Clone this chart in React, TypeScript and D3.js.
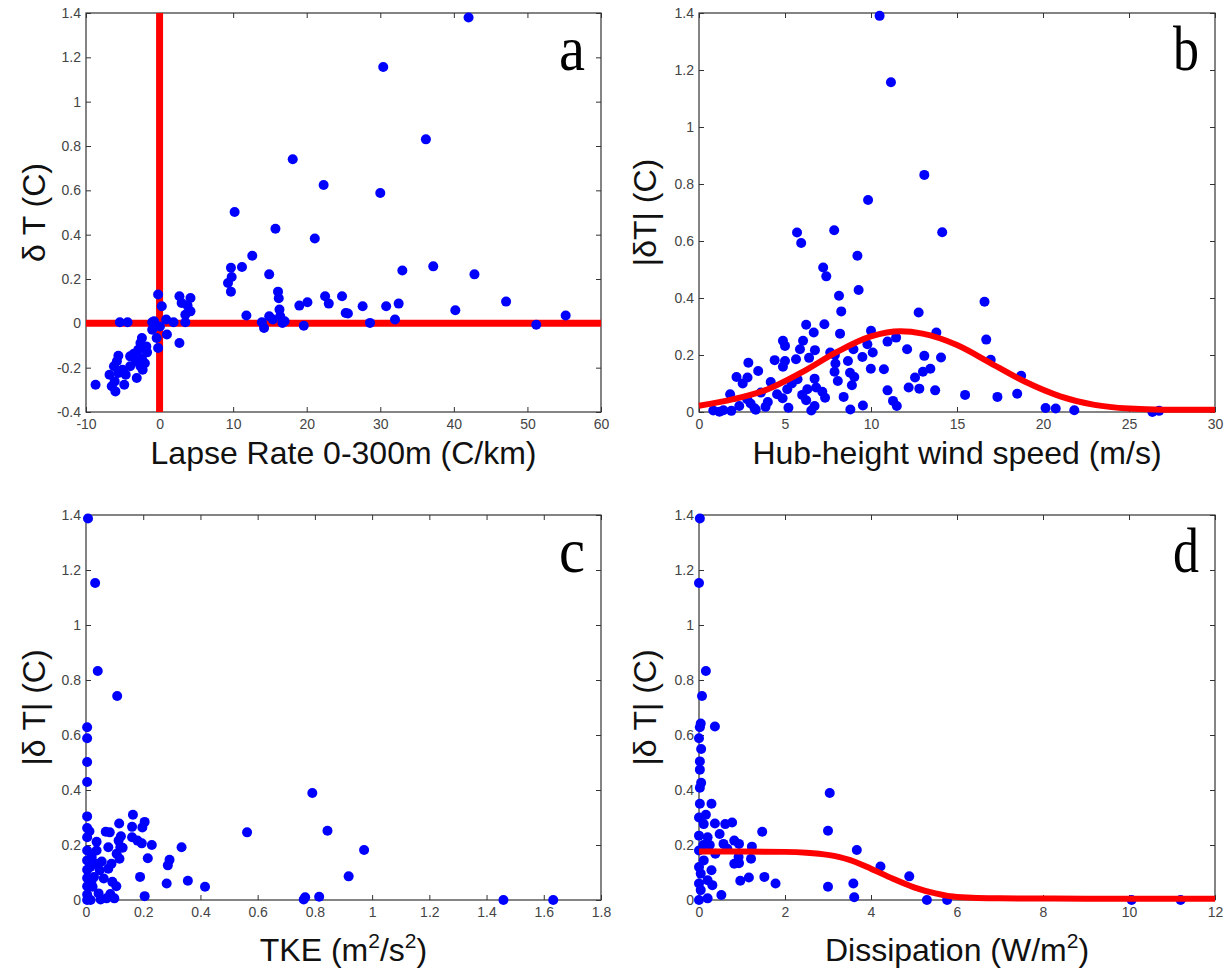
import React, { useEffect, useRef } from "react";
import * as d3 from "d3";

// panel a : lapse rate (C/km) vs dT (C)
const lapsePoints: [number, number][] = [
  [42.0, 1.38], [30.4, 1.156], [36.2, 0.83], [18.1, 0.74], [22.3, 0.624], [30.0, 0.588],
  [10.2, 0.502], [15.75, 0.427], [21.1, 0.383], [12.6, 0.305], [37.2, 0.257], [33.0, 0.238],
  [42.8, 0.221], [9.7, 0.251], [11.2, 0.254], [14.9, 0.221], [9.8, 0.209], [9.3, 0.182],
  [9.7, 0.143], [16.1, 0.143], [16.2, 0.113], [22.5, 0.122], [23.0, 0.089], [24.8, 0.122],
  [47.1, 0.098], [20.1, 0.095], [19.0, 0.08], [27.6, 0.077], [30.8, 0.077], [32.5, 0.089],
  [25.3, 0.047], [25.6, 0.044], [40.2, 0.059], [55.2, 0.035], [11.8, 0.035], [16.3, 0.062],
  [16.4, 0.032], [14.9, 0.032], [32.0, 0.017], [17.0, 0.009], [16.7, 0.002], [13.9, 0.005],
  [14.2, -0.021], [19.6, -0.011], [28.6, 0.002], [51.2, -0.006], [15.4, 0.017],
  [-0.2, 0.13], [0.3, 0.077], [2.7, 0.122], [4.2, 0.114], [3.0, 0.092], [3.8, 0.08],
  [4.2, 0.054], [3.5, 0.039], [3.5, 0.005], [1.9, 0.005], [0.9, 0.017], [-0.75, 0.009],
  [0.05, -0.014], [1.0, -0.05], [2.7, -0.089], [-0.2, -0.111], [-0.4, -0.066], [-5.4, 0.005],
  [-4.35, 0.005], [-1.0, 0.005], [-1.0, -0.029], [-2.4, -0.066], [-2.6, -0.089], [-1.8, -0.104],
  [-2.9, -0.119], [-1.7, -0.131], [-3.5, -0.137], [-4.0, -0.149], [-3.2, -0.171], [-2.4, -0.157],
  [-2.0, -0.18], [-2.6, -0.194], [-2.3, -0.209], [-3.1, -0.247], [-4.0, -0.194], [-5.6, -0.146],
  [-5.8, -0.171], [-6.2, -0.194], [-6.8, -0.232], [-5.6, -0.224], [-5.05, -0.209], [-4.6, -0.232],
  [-6.1, -0.262], [-4.8, -0.277], [-6.0, -0.307], [-8.7, -0.277], [-6.5, -0.284],
];

// panel b : hub-height wind speed (m/s) vs |dT|
const windPoints: [number, number][] = [
  [10.5, 1.39], [11.16, 1.157], [13.1, 0.832], [9.83, 0.744], [14.14, 0.631], [5.7, 0.63],
  [5.94, 0.593], [7.86, 0.638], [9.21, 0.548], [7.22, 0.507], [7.4, 0.476], [8.14, 0.408],
  [9.28, 0.428], [8.27, 0.353], [12.77, 0.349], [16.6, 0.387], [7.29, 0.308], [6.23, 0.306],
  [6.67, 0.279], [8.2, 0.275], [10.0, 0.285], [13.8, 0.279], [16.7, 0.254], [11.46, 0.261],
  [10.96, 0.247], [4.88, 0.25], [5.0, 0.232], [6.05, 0.25], [5.87, 0.22], [12.1, 0.22],
  [9.79, 0.238], [10.1, 0.209], [8.98, 0.22], [6.74, 0.217], [7.63, 0.209], [13.1, 0.197],
  [14.07, 0.191], [16.96, 0.183], [2.87, 0.173], [4.4, 0.182], [5.0, 0.179], [5.64, 0.185],
  [8.66, 0.179], [7.93, 0.17], [9.5, 0.193], [4.88, 0.159], [9.99, 0.152], [10.75, 0.15],
  [7.88, 0.141], [8.78, 0.138], [13.02, 0.141], [13.45, 0.152], [3.44, 0.144], [2.18, 0.123],
  [2.82, 0.121], [6.72, 0.117], [12.56, 0.121], [18.73, 0.127], [9.03, 0.123], [8.07, 0.109],
  [8.89, 0.094], [5.73, 0.115], [4.17, 0.105], [2.54, 0.1], [12.19, 0.086], [12.81, 0.082],
  [6.81, 0.086], [6.3, 0.08], [5.13, 0.08], [13.73, 0.076], [10.96, 0.076], [7.17, 0.071],
  [3.6, 0.068], [4.54, 0.062], [15.47, 0.06], [17.35, 0.053], [18.5, 0.064], [8.41, 0.053],
  [7.33, 0.05], [4.86, 0.048], [2.8, 0.045], [1.81, 0.062], [6.23, 0.041], [11.28, 0.039],
  [6.72, 0.021], [9.53, 0.023], [11.5, 0.021], [5.2, 0.015], [3.23, 0.013], [3.87, 0.018],
  [8.8, 0.009], [20.15, 0.014], [20.74, 0.012], [21.82, 0.006], [6.53, 0.005], [1.42, 0.006],
  [0.83, 0.005], [1.19, 0.001], [1.88, 0.004], [2.34, 0.021], [26.36, 0.0], [26.75, 0.004],
  [3.0, 0.03], [4.0, 0.035], [3.3, 0.008], [7.9, 0.2], [6.4, 0.19], [5.4, 0.1], [6.0, 0.06],
];
const windFit: [number, number][] = [
  [0, 0.022], [2, 0.045], [4, 0.08], [6, 0.14], [8, 0.21], [10, 0.265], [11.7, 0.283],
  [13, 0.275], [15, 0.235], [17, 0.17], [19, 0.105], [21, 0.055], [23, 0.025], [25, 0.012],
  [27, 0.008], [30, 0.008],
];

// panel c : TKE (m2/s2) vs |dT|
const tkePoints: [number, number][] = [
  [0.007, 1.387], [0.032, 1.153], [0.041, 0.833], [0.109, 0.742], [0.004, 0.628], [0.004, 0.588],
  [0.004, 0.502], [0.004, 0.429], [0.004, 0.304], [0.004, 0.262], [0.004, 0.228], [0.004, 0.18],
  [0.004, 0.144], [0.004, 0.11], [0.004, 0.08], [0.004, 0.05], [0.004, 0.02], [0.004, 0.0],
  [0.791, 0.389], [0.563, 0.246], [0.844, 0.252], [0.972, 0.182], [0.918, 0.086], [0.334, 0.192],
  [0.356, 0.07], [0.416, 0.048], [0.282, 0.06], [0.286, 0.126], [0.292, 0.146], [0.216, 0.152],
  [0.23, 0.2], [0.189, 0.084], [0.205, 0.014], [0.761, 0.002], [0.766, 0.01], [0.815, 0.012],
  [1.459, 0.0], [1.633, 0.0], [0.164, 0.31], [0.205, 0.284], [0.197, 0.264], [0.161, 0.266],
  [0.116, 0.278], [0.069, 0.248], [0.083, 0.246], [0.122, 0.232], [0.161, 0.228], [0.18, 0.216],
  [0.195, 0.206], [0.114, 0.216], [0.037, 0.212], [0.037, 0.18], [0.078, 0.192], [0.12, 0.192],
  [0.107, 0.168], [0.128, 0.19], [0.117, 0.15], [0.089, 0.132], [0.078, 0.114], [0.037, 0.132],
  [0.048, 0.108], [0.028, 0.084], [0.062, 0.078], [0.092, 0.066], [0.106, 0.05], [0.023, 0.048],
  [0.044, 0.024], [0.072, 0.006], [0.099, 0.006], [0.085, 0.022], [0.016, 0.0], [0.051, 0.002],
  [0.02, 0.156], [0.02, 0.072], [0.012, 0.25], [0.015, 0.12], [0.055, 0.14],
];

// panel d : dissipation (W/m2) vs |dT|
const dissPoints: [number, number][] = [
  [0.02, 1.387], [0.0, 1.153], [0.16, 0.833], [0.07, 0.742], [0.04, 0.642], [0.02, 0.628],
  [0.37, 0.631], [0.0, 0.588], [0.05, 0.549], [0.02, 0.504], [0.02, 0.474], [0.05, 0.426],
  [0.02, 0.408], [0.02, 0.35], [0.29, 0.35], [3.04, 0.389], [3.0, 0.252], [1.47, 0.248],
  [3.67, 0.182], [4.22, 0.122], [4.89, 0.086], [3.59, 0.06], [3.0, 0.048], [3.61, 0.01],
  [5.3, 0.0], [5.77, 0.0], [10.06, 0.0], [11.2, 0.0], [1.78, 0.06], [1.52, 0.084],
  [1.16, 0.082], [0.96, 0.07], [1.21, 0.15], [1.23, 0.194], [0.93, 0.204], [0.82, 0.216],
  [0.82, 0.132], [0.93, 0.134], [0.92, 0.156], [0.77, 0.282], [0.61, 0.276], [0.37, 0.278],
  [0.16, 0.31], [0.11, 0.276], [0.57, 0.204], [0.48, 0.24], [0.38, 0.168], [0.29, 0.108],
  [0.2, 0.072], [0.52, 0.018], [0.2, 0.006], [0.11, 0.144], [0.04, 0.096], [0.04, 0.036],
  [0.0, 0.234], [0.0, 0.0], [0.31, 0.054], [0.2, 0.228], [0.66, 0.186], [0.0, 0.3],
  [0.0, 0.18], [0.0, 0.12], [0.0, 0.06], [0.1, 0.2], [0.25, 0.2],
];
const dissFit: [number, number][] = [
  [0, 0.176], [1, 0.176], [2, 0.175], [2.5, 0.172], [3, 0.164], [3.5, 0.146], [4, 0.114],
  [4.5, 0.078], [5, 0.046], [5.5, 0.024], [6, 0.011], [7, 0.006], [9, 0.005], [12, 0.005],
];

const yTicksAbs = [0, 0.2, 0.4, 0.6, 0.8, 1, 1.2, 1.4];
const yTicksLapse = [-0.4, -0.2, 0, 0.2, 0.4, 0.6, 0.8, 1, 1.2, 1.4];
const xTicksLapse = [-10, 0, 10, 20, 30, 40, 50, 60];
const xTicksWind = [0, 5, 10, 15, 20, 25, 30];
const xTicksTke = [0, 0.2, 0.4, 0.6, 0.8, 1, 1.2, 1.4, 1.6, 1.8];
const xTicksDiss = [0, 2, 4, 6, 8, 10, 12];

const panels = [
  {
    letter: "a", left: 86, right: 601, top: 13, bottom: 412,
    xDomain: [-10, 60], yDomain: [-0.4, 1.4], xTicks: xTicksLapse, yTicks: yTicksLapse,
    points: lapsePoints, fit: null as [number, number][] | null, cross: true,
    xLabel: [["Lapse Rate 0-300m (C/km)", false]], yLabel: "\u03b4 T (C)", xLabelY: 464, yLabelX: 45,
  },
  {
    letter: "b", left: 699, right: 1215, top: 13, bottom: 412,
    xDomain: [0, 30], yDomain: [0, 1.4], xTicks: xTicksWind, yTicks: yTicksAbs,
    points: windPoints, fit: windFit, cross: false,
    xLabel: [["Hub-height wind speed (m/s)", false]], yLabel: "|\u03b4T| (C)", xLabelY: 464, yLabelX: 656,
  },
  {
    letter: "c", left: 86, right: 601, top: 515, bottom: 900,
    xDomain: [0, 1.8], yDomain: [0, 1.4], xTicks: xTicksTke, yTicks: yTicksAbs,
    points: tkePoints, fit: null, cross: false,
    xLabel: [["TKE (m", false], ["2", true], ["/s", false], ["2", true], [")", false]],
    yLabel: "|\u03b4 T| (C)", xLabelY: 961, yLabelX: 45,
  },
  {
    letter: "d", left: 699, right: 1215, top: 515, bottom: 900,
    xDomain: [0, 12], yDomain: [0, 1.4], xTicks: xTicksDiss, yTicks: yTicksAbs,
    points: dissPoints, fit: dissFit, cross: false,
    xLabel: [["Dissipation (W/m", false], ["2", true], [")", false]],
    yLabel: "|\u03b4 T| (C)", xLabelY: 961, yLabelX: 656,
  },
];

const SANS = "'Liberation Sans', Arial, Helvetica, sans-serif";
const fmt = (d: any) => String(+(+d).toFixed(1));

const styleAxis = (g: any) => {
  g.select(".domain").remove();
  g.attr("font-family", SANS).attr("font-size", 14);
  g.selectAll("line").attr("stroke", "#333");
  g.selectAll("text").attr("fill", "#444");
};

const drawPanel = (svg: any, p: any) => {
  const x = d3.scaleLinear().domain(p.xDomain).range([p.left, p.right]);
  const y = d3.scaleLinear().domain(p.yDomain).range([p.bottom, p.top]);
  const g = svg.append("g");

  g.append("g").attr("transform", `translate(0,${p.bottom})`)
    .call(d3.axisBottom(x).tickValues(p.xTicks).tickFormat(fmt).tickSizeInner(-5).tickSizeOuter(0).tickPadding(7))
    .call(styleAxis);
  g.append("g").attr("transform", `translate(0,${p.top})`)
    .call(d3.axisTop(x).tickValues(p.xTicks).tickFormat(() => "").tickSizeInner(-5).tickSizeOuter(0))
    .call(styleAxis);
  g.append("g").attr("transform", `translate(${p.left},0)`)
    .call(d3.axisLeft(y).tickValues(p.yTicks).tickFormat(fmt).tickSizeInner(-5).tickSizeOuter(0).tickPadding(5))
    .call(styleAxis);
  g.append("g").attr("transform", `translate(${p.right},0)`)
    .call(d3.axisRight(y).tickValues(p.yTicks).tickFormat(() => "").tickSizeInner(-5).tickSizeOuter(0))
    .call(styleAxis);

  g.append("rect")
    .attr("x", p.left).attr("y", p.top)
    .attr("width", p.right - p.left).attr("height", p.bottom - p.top)
    .attr("fill", "none").attr("stroke", "#333").attr("stroke-width", 1.2);

  if (p.cross) {
    g.append("line")
      .attr("x1", x(p.xDomain[0])).attr("x2", x(p.xDomain[1]))
      .attr("y1", y(0)).attr("y2", y(0))
      .attr("stroke", "#ff0000").attr("stroke-width", 7);
    g.append("line")
      .attr("x1", x(0)).attr("x2", x(0))
      .attr("y1", y(p.yDomain[0])).attr("y2", y(p.yDomain[1]))
      .attr("stroke", "#ff0000").attr("stroke-width", 7);
  }

  g.append("g").selectAll("circle")
    .data(p.points)
    .enter()
    .append("circle")
    .attr("cx", (d: any) => x(d[0]))
    .attr("cy", (d: any) => y(d[1]))
    .attr("r", 5)
    .attr("fill", "#0000ff");

  if (p.fit) {
    const line = d3.line<[number, number]>()
      .x((d) => x(d[0]))
      .y((d) => y(d[1]))
      .curve(d3.curveMonotoneX);
    g.append("path")
      .attr("d", line(p.fit))
      .attr("fill", "none")
      .attr("stroke", "#ff0000")
      .attr("stroke-width", 6)
      .attr("stroke-linecap", "butt");
  }

  // x label, with superscripts
  const xt = g.append("text")
    .attr("x", (p.left + p.right) / 2)
    .attr("y", p.xLabelY)
    .attr("text-anchor", "middle")
    .attr("font-family", SANS)
    .attr("font-size", 32)
    .attr("fill", "#111");
  p.xLabel.forEach(([s, sup]: [string, boolean], i: number) => {
    const prevSup = i > 0 && p.xLabel[i - 1][1];
    const ts = xt.append("tspan").text(s);
    if (sup) ts.attr("font-size", 21).attr("dy", -13);
    else if (prevSup) ts.attr("dy", 13);
  });

  g.append("text")
    .attr("transform", `translate(${p.yLabelX},${(p.top + p.bottom) / 2}) rotate(-90)`)
    .attr("text-anchor", "middle")
    .attr("font-family", SANS)
    .attr("font-size", 32)
    .attr("fill", "#111")
    .text(p.yLabel);

  g.append("text")
    .attr("x", p.right - 16)
    .attr("y", p.top + 57)
    .attr("text-anchor", "end")
    .attr("font-family", "'Liberation Serif', 'Times New Roman', serif")
    .attr("font-size", 64)
    .attr("textLength", 26)
    .attr("lengthAdjust", "spacingAndGlyphs")
    .attr("fill", "#000")
    .text(p.letter);
};

export default function App() {
  const ref = useRef<SVGSVGElement>(null);

  useEffect(() => {
    const svg = d3.select(ref.current);
    svg.selectAll("*").remove();
    panels.forEach((p) => drawPanel(svg, p));
  }, []);

  return (
    <svg
      ref={ref}
      width={1227}
      height={974}
      style={{ position: "absolute", left: 0, top: 0, background: "#fff" }}
    />
  );
}
